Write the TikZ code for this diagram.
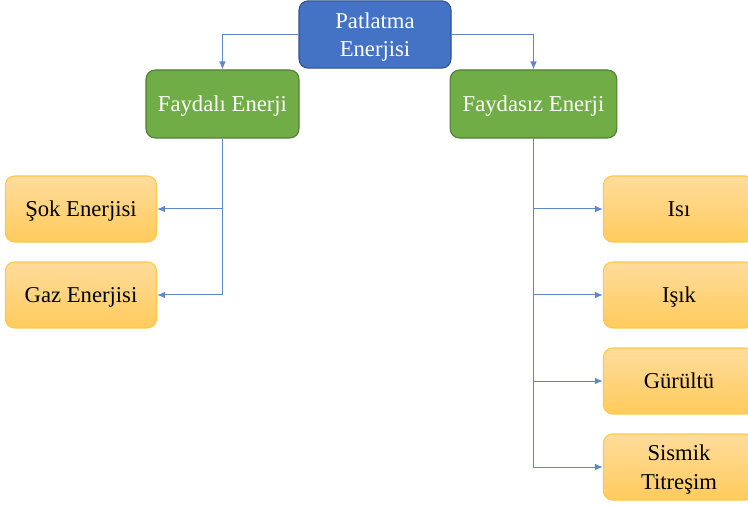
\documentclass[tikz,border=0pt]{standalone}
\usepackage{fontspec}
\setmainfont{Liberation Serif}
\usetikzlibrary{arrows.meta}
\definecolor{topfill}{HTML}{4472C4}
\definecolor{topline}{HTML}{2F528F}
\definecolor{midfill}{HTML}{70AD47}
\definecolor{midline}{HTML}{507E32}
\definecolor{leaftop}{HTML}{FFDC9C}
\definecolor{leafbot}{HTML}{FFCB5C}
\definecolor{leafline}{HTML}{FFC84A}
\definecolor{link}{HTML}{4472C4}
\tikzset{
  box/.style={rounded corners=7pt, line width=0.8pt, align=center,
    font=\fontsize{17}{21.5}\selectfont, inner sep=2pt, text depth=0pt},
  rootbox/.style={box, fill=topfill, draw=topline, text=white,
    minimum width=114pt, minimum height=50.5pt},
  groupbox/.style={box, fill=midfill, draw=midline, text=white,
    minimum height=51pt},
  leafbox/.style={box, top color=leaftop, bottom color=leafbot, draw=leafline,
    text=black, minimum width=113.5pt, minimum height=49.5pt},
  link/.style={draw=link!85!white, line width=0.75pt,
    -{Latex[length=6pt,width=5pt]}}
}
\begin{document}
\begin{tikzpicture}[x=0.75pt,y=-0.75pt]
  \useasboundingbox (0,0) rectangle (748,505);
  % root
  \node[rootbox] (root) at (375,34.5) {Patlatma\\Enerjisi};
  % two groups
  \node[groupbox, minimum width=114.75pt] (useful) at (222.5,104) {Faydalı Enerji};
  \node[groupbox, minimum width=125pt] (waste) at (533.5,104) {Faydasız Enerji};
  % useful leaves
  \node[leafbox] (shock) at (81,209) {Şok Enerjisi};
  \node[leafbox] (gas)   at (81,295) {Gaz Enerjisi};
  % wasted leaves
  \node[leafbox] (heat)  at (679,209) {Isı};
  \node[leafbox] (light) at (679,295) {Işık};
  \node[leafbox] (noise) at (679,381) {Gürültü};
  \node[leafbox] (seis)  at (679,467) {Sismik\\Titreşim};
  % root to groups
  \draw[link] (root.west) -| (useful.north);
  \draw[link] (root.east) -| (waste.north);
  % useful branch
  \draw[link] (useful.south) |- (gas.east);
  \draw[link] (useful.south |- shock.east) -- (shock.east);
  % wasted branch
  \draw[link] (waste.south) |- (seis.west);
  \draw[link] (waste.south |- heat.west) -- (heat.west);
  \draw[link] (waste.south |- light.west) -- (light.west);
  \draw[link] (waste.south |- noise.west) -- (noise.west);
\end{tikzpicture}
\end{document}
